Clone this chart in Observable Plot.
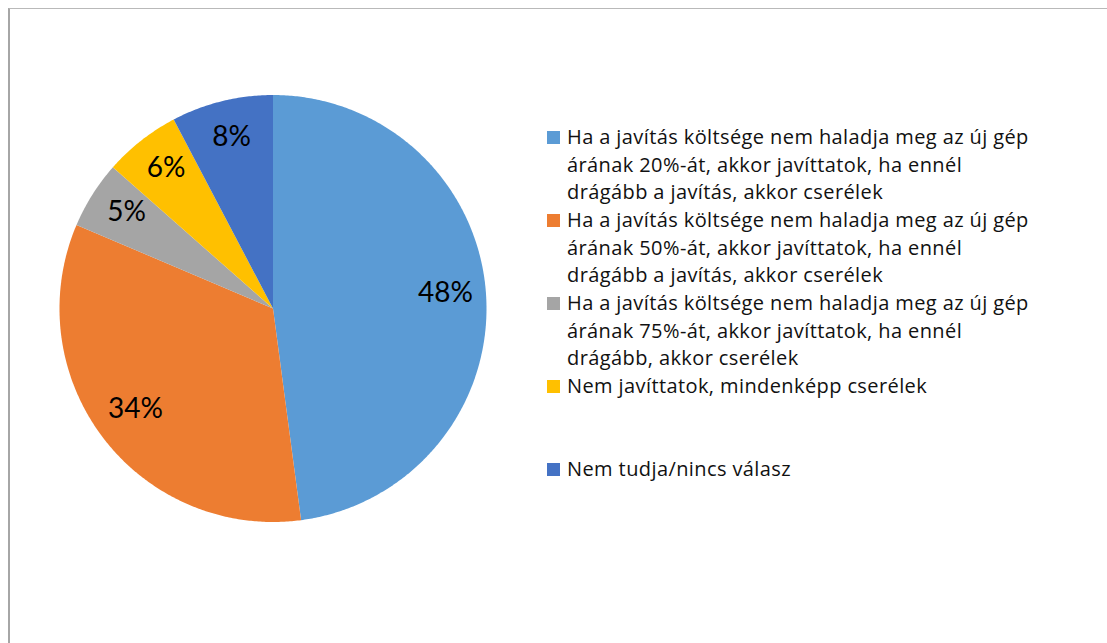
<!DOCTYPE html>
<html><head><meta charset="utf-8">
<script src="https://cdn.jsdelivr.net/npm/d3@7"></script>
<script src="https://cdn.jsdelivr.net/npm/@observablehq/plot@0.6"></script>
<style>
body{margin:0;background:#fff;}
#wrap{position:relative;width:1107px;height:643px;overflow:hidden;font-family:"Open Sans",Lato,sans-serif;}
#frame{position:absolute;left:8px;top:8px;width:1200px;height:800px;border-top:1px solid #b9b9b9;border-left:2px solid #a6a6a6;}
#chart{position:absolute;left:0;top:0;}
#legend{position:absolute;left:547px;top:123px;}
.item{display:flex;height:83px;align-items:flex-start;}
.sw{width:13px;height:13px;margin-top:8px;margin-right:7px;flex:none;}
.lab{font-size:20px;letter-spacing:0.4px;line-height:27.5px;color:#111;white-space:pre-line;}
</style></head>
<body>
<div id="wrap"><div id="frame"></div><div id="chart"></div><div id="legend"></div></div>
<script>
const categories = [
  "Ha a javítás költsége nem haladja meg az új gép\nárának 20%-át, akkor javíttatok, ha ennél\ndrágább a javítás, akkor cserélek",
  "Ha a javítás költsége nem haladja meg az új gép\nárának 50%-át, akkor javíttatok, ha ennél\ndrágább a javítás, akkor cserélek",
  "Ha a javítás költsége nem haladja meg az új gép\nárának 75%-át, akkor javíttatok, ha ennél\ndrágább, akkor cserélek",
  "Nem javíttatok, mindenképp cserélek",
  "Nem tudja/nincs válasz"
];
const values = [47.9, 33.5, 5.1, 5.8, 7.7];
const pctLabels = ["48%", "34%", "5%", "6%", "8%"];
const colors = ["#5B9BD5", "#ED7D31", "#A5A5A5", "#FFC000", "#4472C4"];

const arcs = d3.pie().sort(null).value(d => d)(values);
const pts = [];
arcs.forEach((a, i) => {
  const n = Math.max(2, Math.ceil((a.endAngle - a.startAngle) / (Math.PI / 360)));
  pts.push({cat: categories[i], x: 0, y: 0});
  for (let k = 0; k <= n; k++) {
    const t = a.startAngle + (a.endAngle - a.startAngle) * k / n;
    pts.push({cat: categories[i], x: Math.sin(t), y: Math.cos(t)});
  }
  pts.push({cat: categories[i], x: 0, y: 0});
});
const labels = arcs.map((a, i) => {
  const m = (a.startAngle + a.endAngle) / 2;
  return {x: 0.81 * Math.sin(m), y: 0.81 * Math.cos(m), text: pctLabels[i]};
});
const cx = 272.5, cy = 308, r = 213.5;
const chart = Plot.plot({
  width: 1107, height: 643, margin: 0,
  x: {domain: [-1, 1], range: [cx - r, cx + r], axis: null},
  y: {domain: [-1, 1], range: [cy + r, cy - r], axis: null},
  color: {domain: categories, range: colors},
  style: {background: "transparent", fontFamily: "Lato, 'Open Sans', sans-serif"},
  marks: [
    Plot.line(pts, {x: "x", y: "y", z: "cat", fill: "cat", stroke: "none", curve: "linear"}),
    Plot.text(labels, {x: "x", y: "y", text: "text", fontSize: 28, fill: "#000", dy: -4})
  ]
});
document.getElementById("chart").appendChild(chart);
const leg = d3.select("#legend");
categories.forEach((c, i) => {
  const it = leg.append("div").attr("class", "item");
  it.append("div").attr("class", "sw").style("background", chart.scale("color").apply(c));
  it.append("div").attr("class", "lab").text(c);
});
</script>
</body></html>
